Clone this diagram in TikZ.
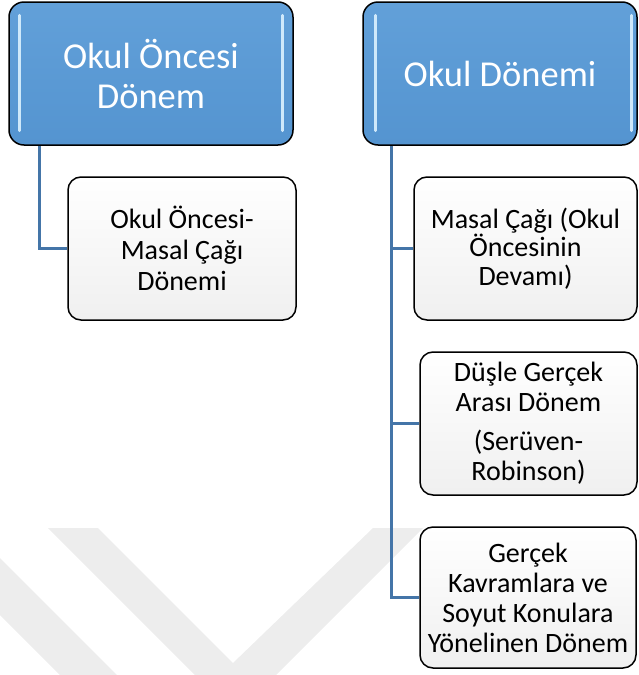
\documentclass[tikz,border=0pt]{standalone}
\usepackage{fontspec}
\setmainfont{Carlito}
\usetikzlibrary{calc}
\definecolor{hdrtop}{RGB}{98,160,217}
\definecolor{hdrbot}{RGB}{84,148,208}
\definecolor{connblue}{RGB}{68,117,168}
\definecolor{wm}{RGB}{237,237,237}
\definecolor{hilite}{RGB}{220,242,255}
\begin{document}
\begin{tikzpicture}[x=1pt,y=-1pt,
  header/.style={draw=black, line width=1.5pt, rounded corners=15pt,
    top color=hdrtop, bottom color=hdrbot, text=white, align=center,
    font=\fontsize{36.5}{40}\selectfont, inner sep=0pt, minimum height=143pt},
  child/.style={draw=black, line width=1.5pt, rounded corners=13pt,
    top color=white, bottom color=black!6, text=black, align=center,
    font=\fontsize{28}{31}\selectfont, inner sep=0pt, minimum height=143pt},
  conn/.style={draw=connblue, line width=2.6pt},
  hl/.style={draw=hilite, line width=2.6pt, line cap=round, opacity=0.9}]
\useasboundingbox (0,0) rectangle (638,675);
% watermark
\fill[wm] (48,528) -- (98,528) -- (233,663) -- (373,528) -- (423,528) -- (276,675) -- (195,675) -- cycle;
\fill[wm] (0,558) -- (117,675) -- (60,675) -- (0,615) -- cycle;
% headers
\node[header, minimum width=284pt] (h1) at (151,73.5) {Okul Öncesi\\Dönem};
\node[header, minimum width=274pt] (h2) at (500,73.5) {Okul Dönemi};
% highlights
\draw[hl] ($(h1.north west)+(11,14)$) -- ($(h1.south west)+(11,-15)$);
\draw[hl] ($(h1.north east)+(-11,14)$) -- ($(h1.south east)+(-11,-15)$);
\draw[hl] ($(h2.north west)+(13,14)$) -- ($(h2.south west)+(13,-15)$);
\draw[hl] ($(h2.north east)+(-6,14)$) -- ($(h2.south east)+(-6,-15)$);
% children
\node[child, minimum width=228pt] (c1) at (182,248.5) {Okul Öncesi-\\Masal Çağı\\Dönemi};
\node[child, minimum width=223pt, font=\fontsize{28}{28.5}\selectfont] (r1) at (525.5,248.5) {Masal Çağı (Okul\\Öncesinin\\Devamı)};
\node[child, minimum width=217pt, font=\fontsize{28}{30}\selectfont] (r2) at (528.5,423.5) {Düşle Gerçek\\Arası Dönem\\[9pt](Serüven-\\Robinson)};
\node[child, minimum width=216pt, minimum height=141pt, font=\fontsize{28}{30}\selectfont] (r3) at (528,597.5) {Gerçek\\Kavramlara ve\\Soyut Konulara\\Yönelinen Dönem};
% connectors
\draw[conn] ([xshift=31pt]h1.south west) |- (c1.west);
\draw[conn] ([xshift=29pt]h2.south west) |- (r1.west);
\draw[conn] ([xshift=29pt]h2.south west) |- (r2.west);
\draw[conn] ([xshift=29pt]h2.south west) |- (r3.west);
\end{tikzpicture}
\end{document}
